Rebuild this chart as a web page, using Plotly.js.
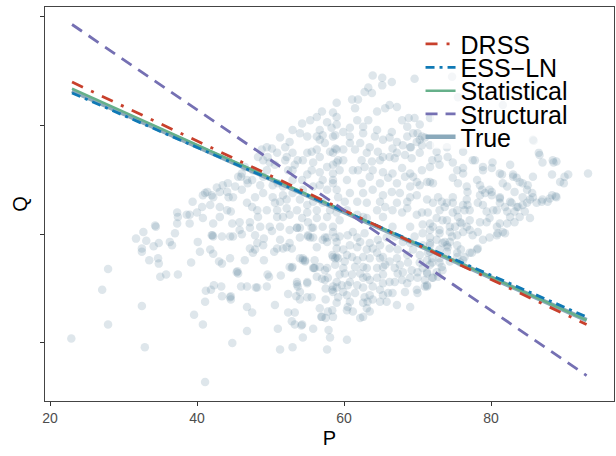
<!DOCTYPE html>
<html>
<head>
<meta charset="utf-8">
<script src="https://cdn.plot.ly/plotly-3.0.1.min.js"></script>
<style>html,body{margin:0;padding:0;background:#fff;}#chart{width:616px;height:456px;}</style>
</head>
<body>
<div id="chart"></div>
<script>
const observations = [
[22.9,10.4],[27.1,14.9],[27.9,16.8],[27.9,11.7],[32.9,9.6],[41.1,6.4],[32.5,13.4],[39.6,12.6],[40.8,11.7],[44.8,10.0],[39.2,17.4],
[31.7,19.6],[32.7,20.2],[33.1,19.4],[32.5,18.7],[32.5,18.4],[33.5,17.6],[34.1,18.9],[34.8,19.2],[34.7,17.8],[34.8,17.3],
[35.0,16.1],[35.8,16.3],[36.3,19.3],[36.6,19.0],[37.0,20.1],[37.4,16.3],[34.4,20.7],[40.1,19.3],[40.4,18.4],[41.1,13.8],
[41.2,14.8],[41.9,14.9],[41.8,18.6],[42.2,18.2],[42.0,19.9],[42.2,19.8],[42.3,15.3],[43.0,17.5],[43.4,17.3],[43.4,14.3],
[43.3,15.2],[43.4,19.8],[44.5,19.8],[44.5,17.8],[44.5,14.2],[44.6,14.3],[44.9,19.8],[45.4,16.5],[45.6,16.4],[46.0,15.2],
[46.8,15.2],[46.1,20.0],[46.5,17.6],[46.8,13.3],[46.8,11.1],[47.2,18.7],[47.6,18.3],[47.9,18.6],[47.5,12.8],[47.9,19.9],
[48.0,15.1],[48.2,19.2],[49.0,19.0],[49.1,19.6],[49.1,17.6],[49.5,15.2],[49.8,16.1],[50.2,20.3],[50.6,13.5],[50.5,18.4],
[50.9,18.7],[51.0,11.3],[51.3,9.4],[51.4,16.2],[51.3,19.5],[51.7,18.7],[52.2,18.8],[52.6,19.2],[52.9,18.7],[52.4,14.5],
[52.4,12.8],[53.3,12.8],[52.6,17.0],[53.0,17.0],[52.9,12.0],[53.3,11.7],[53.0,9.6],[53.5,14.3],[53.6,15.4],[53.7,15.2],
[53.6,20.6],[54.0,20.6],[54.0,14.0],[54.0,17.8],[54.4,17.6],[54.7,17.5],[54.3,11.7],[54.4,10.5],[55.0,15.6],[55.1,19.9],
[55.4,19.7],[55.6,14.2],[55.8,11.3],[55.9,16.9],[56.0,17.6],[56.3,18.8],[56.7,13.2],[56.9,12.4],[57.5,12.3],[57.0,15.9],
[57.4,15.8],[57.5,14.0],[57.7,9.4],[57.9,11.2],[58.1,10.5],[57.8,12.9],[57.7,16.9],[57.4,19.7],[57.7,19.3],[58.8,19.7],
[59.0,17.9],[58.5,15.2],[59.0,15.1],[59.2,14.2],
[39.4,23.0],[37.3,22.0],[37.3,21.0],[38.6,21.8],[40.0,22.0],[41.1,23.8],[42.2,23.4],[40.7,22.5],[41.8,22.7],[43.1,22.5],
[44.3,23.4],[44.6,22.1],[43.1,23.9],[44.1,23.9],[34.3,20.8],[37.4,21.6],[39.0,21.8],[40.8,23.6],[42.0,23.6],[41.4,23.9],
[42.7,24.3],[43.5,24.5],[44.2,24.7],[44.1,22.2],[44.9,23.4],[45.2,24.4],[46.1,24.1],[45.6,25.3],[46.1,25.6],[46.5,26.2],
[46.9,24.7],[47.5,25.0],[47.9,23.4],[46.8,22.9],[47.5,22.5],[44.8,21.0],[45.8,21.1],[47.2,21.1],[48.3,21.6],[48.6,24.5],
[49.0,25.3],[49.5,25.9],[48.3,27.1],[48.8,27.8],[49.5,28.0],[50.2,27.9],[49.9,26.6],[50.6,26.4],[50.3,24.5],[51.0,24.7],
[51.7,24.4],[50.6,22.9],[51.3,23.0],[52.2,23.2],[50.9,21.6],[51.7,21.6],[52.6,21.8],[51.3,28.9],[52.0,28.0],[52.6,28.5],
[52.2,27.1],[53.0,27.5],[53.7,26.8],[53.0,29.6],[54.0,29.3],[53.0,25.9],[53.0,25.0],[54.3,25.0],[55.0,25.5],[54.0,23.2],
[55.0,22.7],[55.8,23.0],[54.3,21.5],[55.1,21.1],[56.3,21.5],[55.4,30.5],[56.3,30.8],[57.0,31.3],[57.7,30.3],[55.6,27.6],
[56.3,27.8],[56.7,28.7],[57.1,29.1],[55.6,25.9],[56.7,25.7],[57.7,26.2],[58.5,26.4],[56.7,24.5],[57.7,24.1],[58.5,24.7],
[58.1,27.6],[59.0,27.8],[59.0,32.1],[58.3,29.8],[59.0,30.1],[57.1,22.9],[58.1,22.2],[59.0,22.0],
[58.5,31.2],[61.1,32.4],[61.9,32.4],[62.8,33.1],[63.3,33.5],[63.8,33.0],[65.2,34.4],[65.2,33.7],[66.5,34.0],[63.9,34.6],
[69.6,34.3],[66.2,31.9],[65.6,31.6],[64.5,31.3],[63.3,30.5],[61.8,30.5],[61.5,31.6],[59.0,30.8],[60.8,29.8],[59.9,29.4],
[58.8,29.1],[62.6,29.9],[62.6,29.3],[64.5,29.6],[64.2,29.0],[65.3,28.7],[63.5,28.0],[64.6,27.6],[67.2,31.7],[67.9,30.5],
[68.6,29.9],[69.6,30.7],[70.3,30.1],[70.0,29.3],[70.6,29.0],[69.9,28.5],[66.5,29.4],[66.2,28.9],[67.2,28.5],[66.6,27.9],
[68.0,28.2],[68.3,27.3],[69.2,27.0],[70.3,27.5],[61.5,27.8],[60.8,28.4],[59.9,27.8],[58.8,27.9],[59.9,26.8],[59.0,26.6],
[62.4,26.8],[62.8,26.2],[61.9,25.9],[63.8,26.7],[64.9,26.8],[66.2,27.1],[66.9,27.0],[63.9,25.9],[65.3,25.7],[66.6,25.6],
[67.9,26.1],[69.0,25.6],[69.4,25.3],[70.6,25.9],[71.7,26.2],[69.0,24.4],[70.3,24.5],[71.3,24.8],[72.1,24.7],[72.8,27.0],
[74.1,27.1],[74.8,26.6],[71.7,28.2],[72.6,27.6],[74.0,28.0],[75.4,25.9],[76.2,25.6],[75.5,24.7],[76.7,24.4],[78.1,25.0],
[77.8,26.8],[78.9,25.9],[80.1,26.1],[80.2,26.6],[81.2,25.6],[81.6,24.7],[83.0,25.3],[83.5,25.2],[85.0,24.5],[85.7,25.3],
[86.6,27.3],[87.0,26.6],[88.4,26.8],[88.9,26.7],[88.3,25.5],[89.4,24.8],[90.0,25.3],[87.0,23.2],[88.0,23.3],[88.9,23.4],
[85.7,28.7],[83.5,22.5],[84.3,22.7],[85.3,23.2],[63.9,24.1],[62.6,23.8],[65.3,23.6],[66.5,23.9],[67.6,23.8],[69.0,23.4],
[69.9,23.6],[71.3,23.2],[72.1,22.9],[73.3,23.0],[73.7,22.5],[74.8,23.4],[75.4,22.2],[76.2,22.7],[77.1,22.2],[78.2,22.9],
[79.4,22.1],[80.8,22.2],[81.9,22.5],[82.8,22.9],[76.8,23.9],[78.8,24.1],[80.1,23.6],[81.2,23.3],[64.5,22.2],[65.6,22.5],
[66.6,22.2],[67.9,22.0],[68.6,22.4],[69.9,21.8],[71.4,22.0],[72.6,21.5],[60.4,22.2],[61.8,21.8],[62.6,21.6],[59.2,23.4],
[60.1,23.0],[73.4,21.3],[74.4,20.7],[75.8,21.1],[76.7,20.7],[78.5,21.1],[79.8,21.5],[81.2,21.0],[82.6,21.6],[83.9,21.6],
[85.3,21.5],[84.6,22.1],
[86.5,27.5],[93.2,25.6],[90.5,25.5],[89.9,24.7],[88.5,26.6],[85.8,28.6],[86.9,23.0],[87.7,23.0],[88.8,23.5],[84.3,24.7],
[83.0,25.5],[82.2,22.1],[83.2,22.1],[71.0,28.9],[70.6,28.2],[74.8,25.2],[76.2,26.1],[77.5,26.8],[78.9,26.2],[81.5,25.5],
[82.6,26.4],[83.9,24.8],[84.9,24.1],[85.7,23.4],[88.3,23.6],[82.2,24.4],[83.2,23.9],[78.5,24.5],[79.8,24.1],[73.0,26.4],
[71.7,24.8],[76.2,27.6],[68.8,30.7],[71.7,30.7],[69.1,28.0],[72.0,26.8],[81.6,31.9],[75.5,32.6],[74.7,34.5],
[60.4,10.3],[62.2,12.3],[62.6,12.4],[63.5,12.9],[60.5,13.3],[60.4,13.0],[58.5,14.7],[60.4,14.4],[59.0,15.6],[59.7,15.3],
[60.5,15.3],[60.8,13.8],[62.8,14.2],[63.2,13.8],[61.8,15.3],[62.6,15.1],[63.9,15.2],[64.9,14.9],[66.0,14.6],[64.5,16.0],
[65.3,16.3],[66.2,15.6],[62.2,16.4],[63.1,16.1],[61.1,16.3],[60.1,16.4],[65.8,13.8],[65.3,14.4],[66.6,14.6],[68.3,14.7],
[64.5,16.9],[65.6,17.2],[66.9,16.9],[68.0,16.5],[67.9,15.8],[69.0,16.0],[70.0,16.0],[71.3,15.3],[69.9,14.9],[71.0,15.2],
[59.2,17.8],[60.1,17.5],[61.1,17.9],[58.8,17.2],[59.9,16.9],[61.5,17.0],[62.6,17.0],[59.0,18.7],[59.9,18.6],[60.8,19.0],
[61.8,18.8],[62.6,17.9],[63.5,17.8],[64.5,18.3],[65.3,17.9],[66.2,17.5],[67.2,17.8],[67.6,17.2],[68.7,17.4],[69.2,16.7],
[70.0,16.5],[71.3,16.4],[67.3,16.4],[59.4,19.8],[60.5,19.9],[61.8,19.7],[62.8,20.1],[63.5,19.2],[64.6,19.5],[65.8,19.7],
[66.9,19.8],[68.0,19.3],[69.0,19.2],[69.6,19.8],[70.7,19.0],[71.7,19.7],[72.6,19.5],[73.4,19.2],[74.4,19.3],[71.7,20.4],
[73.0,20.4],[74.4,20.2],[75.4,19.9],[76.2,20.2],[77.1,20.4],[73.0,18.6],[74.0,18.4],[75.4,18.3],[71.7,18.4],[72.0,17.8],
[69.4,18.6],[70.3,18.1],[71.3,17.6],[71.7,17.2],[72.6,16.5],[73.0,17.4],[74.4,17.5],[75.4,17.9],[76.2,17.6],[77.1,18.3],
[78.1,18.6],[78.9,19.5],[79.8,19.7],[80.8,19.9],[81.6,20.2],[70.0,14.6],[72.1,16.0],[69.0,13.3],[67.2,13.5],[58.4,13.0],
[58.5,12.4],
[85.6,23.8],[84.3,23.4],[84.9,22.9],[83.7,22.5],[81.2,22.9],[83.2,21.1],[81.9,20.1],[80.9,20.1],[80.3,22.2],[78.9,22.7],
[78.5,23.6],[79.2,23.8],[80.1,23.9],[78.2,20.2],[77.5,19.9],[78.2,18.7],[77.4,18.3],[76.0,21.0],[75.5,21.6],[75.1,20.7],
[74.7,19.8],[74.1,18.8],[73.7,19.3],[73.3,17.0],[73.4,16.7],[72.8,16.1],[72.0,16.0],[71.3,15.2],[71.0,15.8],[71.3,16.5],
[72.0,17.4],[71.4,18.3],[71.7,19.2],[70.7,20.1],[70.6,22.0],[73.0,20.1],[74.0,21.3],[74.8,22.0],[76.4,22.2],[76.7,23.2],
[76.8,22.7],[76.4,17.9],[75.8,17.4],
[54.2,11.6],[57.0,12.4],[58.4,14.9],[57.5,15.0],[55.0,14.2],[53.6,15.6],[55.0,15.5],[54.0,14.7],[48.2,15.1],[49.6,16.3],
[55.8,16.9],[56.7,17.0],[57.4,16.7],[56.3,16.1],[57.8,16.0],
[53.6,20.6],[54.0,19.7],[55.1,19.8],[55.6,20.6],[55.8,19.7],[57.1,19.5],[57.7,19.7],[58.5,17.9],[58.8,17.8],[52.9,16.9],
[54.4,17.8],[54.7,17.6],[56.0,16.9],[44.6,14.0],[45.5,16.6],[42.1,19.9],
[46.0,25.3],[46.8,25.0],[47.6,25.9],[49.0,26.8],[49.6,27.1],[50.9,27.5],[52.0,26.8],[52.4,25.9],[53.3,26.4],[54.4,26.8],
[55.0,27.5],[55.8,26.6],[56.7,27.1],[57.4,28.4],[56.3,29.0],[55.0,29.0],[54.3,30.2],[56.7,29.6],[58.5,29.0],[59.2,26.8],
[58.5,25.6],[57.1,25.0],[55.8,24.4],[54.4,24.1],[53.0,23.8],[51.7,23.6],[50.3,23.4],[49.0,23.8],[48.2,22.2],[49.5,22.2],
[50.9,22.2],[52.2,22.4],[53.6,22.2],[55.0,22.0],[56.3,22.2],[57.7,21.6],[58.5,20.7],[57.1,20.7],[55.8,20.6],[52.6,20.4],
[51.3,20.7],[49.9,20.7],[48.6,20.7],[47.2,20.6],[45.8,20.4],[43.1,21.6],[42.2,21.0],[40.8,21.5],[39.0,21.0],
[58.5,27.5],[59.4,25.9],[60.4,25.0],[61.2,25.9],[62.4,24.7],[63.5,25.3],[64.9,24.7],[66.0,25.2],[67.2,24.7],[68.3,25.3],
[69.9,24.8],[58.5,25.0],[59.0,24.1],[60.8,23.8],[61.8,23.0],[63.1,22.9],[64.9,23.0],[67.2,22.9],[68.6,23.0],[65.3,21.6],
[63.1,21.5],[59.4,21.3],[66.6,20.7],[69.0,20.7],[70.7,20.9],[72.1,20.7],[60.8,29.0],[62.2,28.4],[63.1,27.5],[65.3,27.1],
[67.2,27.5],[69.0,28.0],[69.4,29.3],[68.6,29.0],[70.3,28.7],
[58.5,20.2],[59.0,19.3],[61.2,20.2],[62.2,19.3],[63.1,18.6],[63.9,18.7],[64.9,19.0],[66.2,18.7],[67.3,18.6],[68.6,18.1],
[66.9,15.6],[68.6,15.5],[65.3,15.5],[63.5,15.8],[62.6,16.0],[60.8,15.6],[59.4,16.3],[59.9,14.7],[61.5,14.6],[63.5,14.4],
[63.9,14.0],[64.9,13.8],[62.6,13.7],[59.0,13.7],[61.2,12.9],[63.1,13.2],[64.9,17.8],[65.3,17.0],[63.1,16.9],[61.8,17.6],
[60.4,18.1],[58.4,18.1],[70.3,17.4],[70.7,16.9],[73.0,17.8],[71.7,19.0],[74.0,19.0],[75.4,19.0],[75.9,18.6],
[72.8,23.4],[74.0,22.9],[73.0,22.2],[74.8,22.9],[71.7,21.0],[77.1,21.3],[79.4,21.1],[80.8,20.7],[82.2,21.0],[81.2,23.4],
[82.6,23.0],[86.2,22.9]
];

// Fitted lines: P range and Q at each end
const lineP = [23.0, 93.0];
const drssQ = [34.0, 11.7];
const essQ = [33.0, 12.4];
const statQ = [33.4, 12.1];
const structQ = [39.3, 7.0];
const trueQ = [33.2, 12.1];

const seriesNames = ['DRSS', 'ESS\u2212LN', 'Statistical', 'Structural', 'True'];
const xTicks = [20, 40, 60, 80];
const yTicks = [10, 20, 30, 40];

const obsP = observations.map(d => d[0]);
const obsQ = observations.map(d => d[1]);

const legendFont = {size: 25, color: '#000', family: '"Liberation Sans", Arial, sans-serif'};
function legendBox(yPos) {
  return {x: 0.66, y: yPos, xanchor: 'left', yanchor: 'middle', bgcolor: 'rgba(0,0,0,0)',
    borderwidth: 0, font: legendFont, itemwidth: 30};
}

const traces = [
  {x: obsP, y: obsQ, type: 'scatter', mode: 'markers', showlegend: false, hoverinfo: 'skip',
   marker: {size: 8.5, color: 'rgba(90,130,155,0.2)', line: {width: 0}}},
  {x: lineP, y: trueQ, type: 'scatter', mode: 'lines', name: seriesNames[4], legend: 'legend5',
   line: {color: '#8aa9bb', width: 4.5}},
  {x: lineP, y: statQ, type: 'scatter', mode: 'lines', name: seriesNames[2], legend: 'legend3',
   line: {color: '#66b08a', width: 2.5}},
  {x: lineP, y: essQ, type: 'scatter', mode: 'lines', name: seriesNames[1], legend: 'legend2',
   line: {color: '#0f79b5', width: 2.8, dash: '9px,5px,3px,5px'}},
  {x: lineP, y: drssQ, type: 'scatter', mode: 'lines', name: seriesNames[0], legend: 'legend',
   line: {color: '#c8402c', width: 2.8, dash: '12px,9px,3px,9px'}},
  {x: lineP, y: structQ, type: 'scatter', mode: 'lines', name: seriesNames[3], legend: 'legend4',
   line: {color: '#7570b3', width: 2.8, dash: '12px,8px'}}
];

const layout = {
  width: 616, height: 456,
  margin: {l: 45, r: 2, t: 7, b: 55},
  paper_bgcolor: '#ffffff', plot_bgcolor: '#ffffff',
  font: {family: '"Liberation Sans", Arial, sans-serif', color: '#000'},
  showlegend: true,
  legend: legendBox(0.906),
  legend2: legendBox(0.846),
  legend3: legendBox(0.787),
  legend4: legendBox(0.728),
  legend5: legendBox(0.670),
  shapes: [{type: 'rect', xref: 'paper', yref: 'paper', x0: 0.68, x1: 0.935, y0: 0.64, y1: 0.94,
    fillcolor: 'rgba(255,255,255,0.65)', line: {width: 0}, layer: 'above'}],
  xaxis: {range: [19.32, 96.73], tickvals: xTicks, ticks: 'outside', ticklen: 4, tickwidth: 1,
    tickcolor: '#333', showgrid: false, zeroline: false, showline: true, mirror: true,
    linecolor: '#444', linewidth: 1,
    tickfont: {size: 14, color: '#4d4d4d'},
    title: {text: 'P', font: {size: 20, color: '#000'}, standoff: 6}},
  yaxis: {range: [4.66, 40.91], tickvals: yTicks, ticktext: yTicks.map(() => ''), ticks: 'outside',
    ticklen: 4, tickwidth: 1, tickcolor: '#333', showgrid: false, zeroline: false, showline: true,
    mirror: true, linecolor: '#444', linewidth: 1,
    title: {text: 'Q', font: {size: 20, color: '#000'}, standoff: 4}}
};

Plotly.newPlot('chart', traces, layout, {displayModeBar: false, staticPlot: true});
</script>
</body>
</html>
